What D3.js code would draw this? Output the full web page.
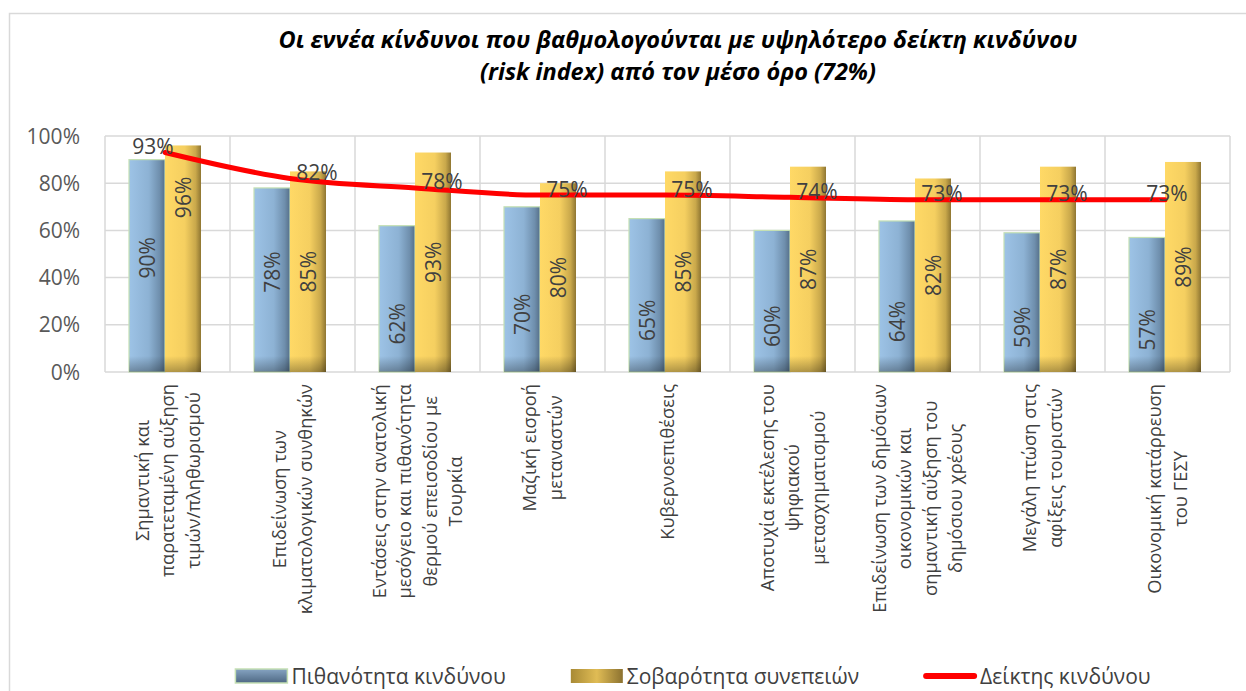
<!DOCTYPE html>
<html>
<head>
<meta charset="utf-8">
<script src="https://cdn.jsdelivr.net/npm/d3@7"></script>
<style>
  body { margin: 0; background: #fff; }
  svg { display: block; font-family: 'Open Sans', sans-serif; }
</style>
</head>
<body>
<div id="chartArea"></div>
<script>
// data
const titleLines = [
  'Οι εννέα κίνδυνοι που βαθμολογούνται με υψηλότερο δείκτη κινδύνου',
  '(risk index) από τον μέσο όρο (72%)'
]
const categories = [
  'Σημαντική και\nπαρατεταμένη αύξηση\nτιμών/πληθωρισμού',
  'Επιδείνωση των\nκλιματολογικών συνθηκών',
  'Εντάσεις στην ανατολική\nμεσόγειο και πιθανότητα\nθερμού επεισοδίου με\nΤουρκία',
  'Μαζική εισροή\nμεταναστών',
  'Κυβερνοεπιθέσεις',
  'Αποτυχία εκτέλεσης του\nψηφιακού\nμετασχηματισμού',
  'Επιδείνωση των δημόσιων\nοικονομικών και\nσημαντική αύξηση του\nδημόσιου χρέους',
  'Μεγάλη πτώση στις\nαφίξεις τουριστών',
  'Οικονομική κατάρρευση\nτου ΓΕΣΥ'
]
const probability = [0.90, 0.78, 0.62, 0.70, 0.65, 0.60, 0.64, 0.59, 0.57]
const severity = [0.96, 0.85, 0.93, 0.80, 0.85, 0.87, 0.82, 0.87, 0.89]
const riskIndex = [0.93, 0.82, 0.78, 0.75, 0.75, 0.74, 0.73, 0.73, 0.73]
const seriesNames = ['Πιθανότητα κινδύνου', 'Σοβαρότητα συνεπειών', 'Δείκτης κινδύνου']
const yTicks = [0, 0.2, 0.4, 0.6, 0.8, 1.0]

const width = 1246
const height = 691
const plot = { left: 105, right: 1230, top: 136, bottom: 372 }
const textColor = '#404040'
const gridColor = '#D9D9D9'

const svg = d3.select('#chartArea')
  .append('svg')
  .attr('width', width)
  .attr('height', height)

// gradients
const defs = svg.append('defs')
const hGrad = (id, stops) => {
  const g = defs.append('linearGradient').attr('id', id)
    .attr('x1', '0%').attr('x2', '100%').attr('y1', '0%').attr('y2', '0%')
  stops.forEach(s => g.append('stop').attr('offset', s[0]).attr('stop-color', s[1]))
}
hGrad('gradBlue', [['0%', '#9DC3E6'], ['55%', '#8DB2D4'], ['85%', '#6F8FAD'], ['100%', '#556F89']])
hGrad('gradGold', [['0%', '#FFD966'], ['55%', '#F5CF60'], ['85%', '#C9A84B'], ['100%', '#8F7632']])
const vShade = defs.append('linearGradient').attr('id', 'shadeBottom')
  .attr('gradientUnits', 'userSpaceOnUse')
  .attr('x1', 0).attr('x2', 0).attr('y1', plot.bottom - 16).attr('y2', plot.bottom)
vShade.append('stop').attr('offset', '0%').attr('stop-color', '#000').attr('stop-opacity', 0)
vShade.append('stop').attr('offset', '100%').attr('stop-color', '#000').attr('stop-opacity', 0.3)
const legBlue = defs.append('linearGradient').attr('id', 'legBlue')
  .attr('x1', '0%').attr('x2', '0%').attr('y1', '0%').attr('y2', '100%')
legBlue.append('stop').attr('offset', '0%').attr('stop-color', '#86A4C2')
legBlue.append('stop').attr('offset', '100%').attr('stop-color', '#4E6883')
const legGold = defs.append('linearGradient').attr('id', 'legGold')
  .attr('x1', '0%').attr('x2', '100%').attr('y1', '0%').attr('y2', '0%')
legGold.append('stop').attr('offset', '0%').attr('stop-color', '#A88A35')
legGold.append('stop').attr('offset', '50%').attr('stop-color', '#E0BC55')
legGold.append('stop').attr('offset', '100%').attr('stop-color', '#8C7230')

// outer chart border
svg.append('rect')
  .attr('x', 9.5).attr('y', 13.5)
  .attr('width', width + 20).attr('height', height + 20)
  .attr('fill', 'none').attr('stroke', gridColor).attr('stroke-width', 1.5)

// title
svg.append('g')
  .selectAll('text')
  .data(titleLines)
  .join('text')
  .attr('x', 678)
  .attr('y', (d, i) => 48 + i * 32)
  .attr('text-anchor', 'middle')
  .attr('font-size', 23.5)
  .attr('font-weight', 'bold')
  .attr('font-style', 'italic')
  .attr('fill', '#000')
  .text(d => d)

// scales
const xScale = d3.scaleBand()
  .domain(d3.range(categories.length))
  .range([plot.left, plot.right])
const barW = 36
const barOffset = 24
const yScale = d3.scaleLinear().domain([0, 1]).range([plot.bottom, plot.top])

// grid
const grid = svg.append('g')
grid.selectAll('line.h')
  .data(yTicks)
  .join('line')
  .attr('class', 'h')
  .attr('x1', plot.left).attr('x2', plot.right)
  .attr('y1', d => yScale(d)).attr('y2', d => yScale(d))
  .attr('stroke', gridColor).attr('stroke-width', 1.5)
grid.selectAll('line.v')
  .data(d3.range(categories.length + 1))
  .join('line')
  .attr('class', 'v')
  .attr('x1', i => plot.left + i * xScale.bandwidth())
  .attr('x2', i => plot.left + i * xScale.bandwidth())
  .attr('y1', plot.top).attr('y2', plot.bottom)
  .attr('stroke', gridColor).attr('stroke-width', 1.5)

// y axis labels
svg.append('g')
  .selectAll('text')
  .data(yTicks)
  .join('text')
  .attr('x', 80)
  .attr('y', d => yScale(d))
  .attr('dy', '0.36em')
  .attr('text-anchor', 'end')
  .attr('font-size', 21)
  .attr('fill', '#595959')
  .text(d3.format('.0%'))

// bars
const barsG = svg.append('g')
const drawBars = (values, offset, fill, stroke) => {
  barsG.selectAll(null)
    .data(values)
    .join('rect')
    .attr('x', (d, i) => xScale(i) + offset)
    .attr('y', d => yScale(d))
    .attr('width', barW)
    .attr('height', d => yScale(0) - yScale(d))
    .attr('fill', fill)
    .attr('stroke', stroke)
    .attr('stroke-width', stroke === 'none' ? 0 : 1.2)
  barsG.selectAll(null)
    .data(values)
    .join('rect')
    .attr('x', (d, i) => xScale(i) + offset)
    .attr('y', d => yScale(d))
    .attr('width', barW)
    .attr('height', d => yScale(0) - yScale(d))
    .attr('fill', 'url(#shadeBottom)')
}
drawBars(probability, barOffset, 'url(#gradBlue)', '#C5E0B4')
drawBars(severity, barOffset + barW, 'url(#gradGold)', 'none')

// bar labels, rotated
const barLabel = (values, offset, cyFn) => {
  svg.append('g')
    .selectAll('text')
    .data(values)
    .join('text')
    .attr('transform', (d, i) => `translate(${xScale(i) + offset + barW / 2},${cyFn(d, i)}) rotate(-90)`)
    .attr('text-anchor', 'middle')
    .attr('dy', '0.36em')
    .attr('font-size', 21)
    .attr('fill', textColor)
    .text(d3.format('.0%'))
}
barLabel(probability, barOffset, d => yScale(d / 2) + (d < 0.75 ? 25 : -8))
barLabel(severity, barOffset + barW, (d, i) => d - riskIndex[i] <= 0.03 ? yScale(d) + 52 : yScale(d / 2))

// risk index line
const lineX = i => xScale(i) + barOffset + barW
const line = d3.line()
  .x((d, i) => lineX(i))
  .y(d => yScale(d))
  .curve(d3.curveMonotoneX)
svg.append('path')
  .datum(riskIndex)
  .attr('d', line)
  .attr('fill', 'none')
  .attr('stroke', '#FF0000')
  .attr('stroke-width', 5)
  .attr('stroke-linecap', 'round')

svg.append('g')
  .selectAll('text')
  .data(riskIndex)
  .join('text')
  .attr('x', (d, i) => lineX(i) + (i === 0 ? -12 : i === riskIndex.length - 1 ? 2 : 27))
  .attr('y', d => yScale(d) - 6)
  .attr('dy', '0.36em')
  .attr('text-anchor', 'middle')
  .attr('font-size', 21)
  .attr('fill', textColor)
  .text(d3.format('.0%'))

// category labels, rotated and multiline
const lineGap = 25.5
const catG = svg.append('g')
  .selectAll('g')
  .data(categories)
  .join('g')
catG.each(function (d, i) {
  const lines = d.split('\n')
  const g = d3.select(this)
  const cx = xScale(i) + xScale.bandwidth() / 2
  const texts = g.selectAll('text')
    .data(lines)
    .join('text')
    .attr('text-anchor', 'middle')
    .attr('font-size', 18.3)
    .attr('fill', textColor)
    .text(t => t)
  const maxLen = d3.max(texts.nodes(), n => n.getComputedTextLength())
  const cy = plot.bottom + 12 + maxLen / 2
  texts.attr('transform', (t, k) => {
    const x = cx + (k - (lines.length - 1) / 2) * lineGap
    return `translate(${x},${cy}) rotate(-90)`
  })
    .attr('dy', '0.36em')
})

// legend
const legendY = 676
const legend = svg.append('g')
const items = legend.selectAll('g')
  .data(seriesNames)
  .join('g')
items.each(function (d, i) {
  const g = d3.select(this)
  if (i < 2) {
    g.append('rect')
      .attr('x', 0).attr('y', legendY - 7)
      .attr('width', 52).attr('height', 14)
      .attr('fill', i === 0 ? 'url(#legBlue)' : 'url(#legGold)')
      .attr('stroke', i === 0 ? '#C5E0B4' : 'none')
      .attr('stroke-width', 1.5)
  } else {
    g.append('line')
      .attr('x1', 2).attr('x2', 50)
      .attr('y1', legendY).attr('y2', legendY)
      .attr('stroke', '#FF0000').attr('stroke-width', 6)
      .attr('stroke-linecap', 'round')
  }
  g.append('text')
    .attr('x', 56).attr('y', legendY)
    .attr('dy', '0.36em')
    .attr('font-size', 21)
    .attr('fill', textColor)
    .text(d)
})
const legendGap = 65
const widths = items.nodes().map(n => n.getBBox().width)
const total = d3.sum(widths) + legendGap * (widths.length - 1)
let lx = 692 - total / 2
items.attr('transform', (d, i) => {
  const t = `translate(${lx},0)`
  lx += widths[i] + legendGap
  return t
})
</script>
</body>
</html>
